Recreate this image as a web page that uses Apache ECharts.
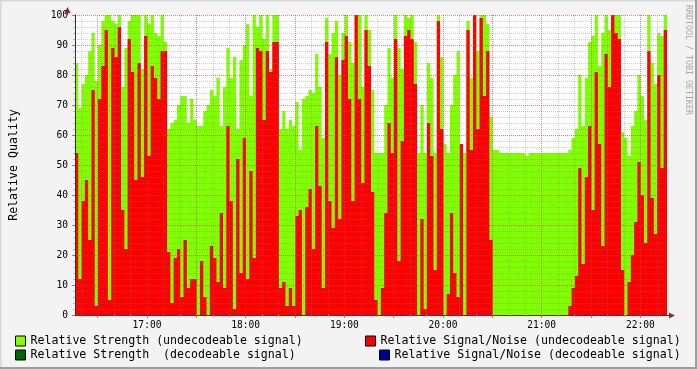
<!DOCTYPE html>
<html><head><meta charset="utf-8">
<script src="https://cdn.jsdelivr.net/npm/echarts@6/dist/echarts.min.js"></script>
<style>html,body{margin:0;padding:0;background:#f3f3f3}#c{width:697px;height:369px}</style>
</head><body><div id="c"></div>
<script>
// ---- data (2-minute bins starting 16:16.2) ----
const startMinute = 976.2;
const binMinutes = 2;
const hourLabels = ['17:00','18:00','19:00','20:00','21:00','22:00'];
const yTickLabels = [0,10,20,30,40,50,60,70,80,90,100];
const seriesNames = [
  'Relative Strength (undecodeable signal)',
  'Relative Signal/Noise (undecodeable signal)',
  'Relative Strength  (decodeable signal)',
  'Relative Signal/Noise (decodeable signal)'
];
const strengthUndecodeable = [
 84,69,77,80,88,94,78,90,98,100, 100,98,97,100,76,89,98,100,100,100,
 82,100,97,100,94,93,100,91,62,64, 65,70,73,73,64,72,65,63,63,68,
 70,75,73,79,63,76,89,79,86,62, 85,90,97,73,100,96,100,92,100,82,
 100,100,62,68,62,65,63,71,55,72, 73,75,74,87,76,59,99,87,94,98,
 80,94,100,91,84,100,100,76,100,95, 75,54,54,54,70,89,79,100,89,82,
 100,99,100,91,54,70,54,84,79,54, 100,86,57,54,70,80,88,54,54,98,
 79,100,88,100,100,97,66,55,55,54, 54,54,54,54,54,54,54,53,54,54,
 54,54,54,54,54,54,54,54,54,54, 55,59,62,80,63,79,91,93,100,83,
 94,100,95,100,100,100,61,59,53,63, 68,80,73,65,100,84,77,94,93,100
];
const snrUndecodeable = [
 54,12,38,45,25,75,3,72,83,95, 5,89,86,96,35,22,92,81,45,84,
 46,93,53,83,79,72,88,88,21,4, 19,22,6,25,9,12,12,0,18,6,
 0,23,19,11,34,9,63,38,2,52, 14,59,12,48,19,89,88,65,88,81,
 91,91,9,11,3,9,3,33,35,0, 36,42,22,63,43,9,91,38,29,86,
 32,85,93,72,38,100,72,44,95,83, 41,5,0,9,34,64,54,92,18,58,
 93,95,92,77,0,32,2,64,53,15, 98,62,0,7,34,14,6,57,0,95,
 55,100,62,99,73,88,25,0,0,0, 0,0,0,0,0,0,0,0,0,0,
 0,0,0,0,0,0,0,0,0,0, 3,9,13,49,17,46,63,35,81,57,
 23,87,76,100,94,92,15,0,11,20, 31,51,40,24,88,39,27,80,49,95
];
const strengthDecodeable = [];
const snrDecodeable = [];

// ---- derived tables for the library ----
const nBins = strengthUndecodeable.length;
const boundaries = Array.from({length: nBins + 1}, (_, i) => i);
const stepData = arr => arr.concat([arr[arr.length - 1]]);
const endMinute = startMinute + nBins * binMinutes;
const toMin = s => { const p = s.split(':'); return +p[0] * 60 + +p[1]; };
const hourValues = hourLabels.map(toMin);
const minorX = []; for (let t = Math.ceil(startMinute / 10) * 10; t <= endMinute; t += 10) minorX.push(t);
const majorX = []; for (let t = Math.ceil(startMinute / 30) * 30; t <= endMinute; t += 30) majorX.push(t);
const fmt = v => { const h = Math.floor(v / 60), m = Math.round(v % 60); return (h < 10 ? '0' : '') + h + ':' + (m < 10 ? '0' : '') + m; };

const MONO = 'DejaVu Sans Mono';
const GREY = 'rgba(128,128,128,0.38)';
const RED = 'rgba(222,48,48,0.45)';
const chart = echarts.init(document.getElementById('c'), null, {renderer: 'canvas'});

function legendAt(name, left, top) {
  return {
    data: [name], left: left, top: top, padding: 0, orient: 'horizontal',
    icon: 'rect', itemWidth: 10, itemHeight: 10, selectedMode: false,
    itemStyle: {borderColor: '#000', borderWidth: 1},
    textStyle: {fontFamily: MONO, fontSize: 11.6, color: '#000', lineHeight: 14}
  };
}

chart.setOption({
  animation: false,
  backgroundColor: '#f3f3f3',
  grid: {left: 67, right: 30, top: 15, bottom: 54, show: true, backgroundColor: '#fff', borderWidth: 0},
  legend: [
    legendAt(seriesNames[0], 15, 334),
    legendAt(seriesNames[1], 365, 334),
    legendAt(seriesNames[2], 15, 348),
    legendAt(seriesNames[3], 379, 348)
  ],
  xAxis: [
    {type: 'category', data: boundaries, boundaryGap: false, show: false, position: 'top'},
    {type: 'value', min: startMinute, max: endMinute, z: 3, position: 'bottom', offset: 0,
     axisLine: {show: true, onZero: false, lineStyle: {color: '#333', width: 1}},
     axisTick: {show: true, length: 2, customValues: minorX, lineStyle: {color: '#aaa'}},
     axisLabel: {show: true, customValues: hourValues, formatter: fmt, margin: 5,
                 fontFamily: MONO, fontSize: 9.6, color: '#000'},
     splitLine: {show: true, lineStyle: {color: GREY, type: [1, 1], width: 1}}},
    {type: 'value', min: startMinute, max: endMinute, z: 4, position: 'bottom', offset: 0,
     axisLine: {show: false, onZero: false},
     axisTick: {show: true, length: 3, customValues: majorX, lineStyle: {color: 'rgba(222,48,48,0.7)'}},
     axisLabel: {show: false},
     splitLine: {show: true, lineStyle: {color: RED, type: [1, 1], width: 1}}}
  ],
  yAxis: [
    {type: 'value', min: 0, max: 100, interval: 10, z: 4, position: 'left', offset: 0,
     name: 'Relative Quality', nameLocation: 'middle', nameGap: 55, nameRotate: 90,
     nameTextStyle: {fontFamily: MONO, fontSize: 11.6, color: '#000'},
     axisLine: {show: true, onZero: false, lineStyle: {color: '#333', width: 1}},
     axisTick: {show: true, length: 3, lineStyle: {color: 'rgba(222,48,48,0.7)'}},
     axisLabel: {show: true, margin: 7, fontFamily: MONO, fontSize: 9.6, color: '#000',
                 formatter: v => yTickLabels.indexOf(v) >= 0 ? String(v) : ''},
     splitLine: {show: true, lineStyle: {color: RED, type: [1, 1], width: 1}}},
    {type: 'value', min: 0, max: 100, interval: 2, z: 3, position: 'left', offset: 0,
     axisLine: {show: false, onZero: false}, axisLabel: {show: false},
     axisTick: {show: true, length: 2, lineStyle: {color: '#bbb'}},
     splitLine: {show: true, lineStyle: {color: GREY, type: [1, 1], width: 1}}}
  ],
  series: [
    {name: seriesNames[0], type: 'line', xAxisIndex: 0, yAxisIndex: 0, step: 'end',
     data: stepData(strengthUndecodeable), showSymbol: false, z: 1,
     color: '#7fff00', lineStyle: {opacity: 0}, areaStyle: {color: '#7fff00', opacity: 1}},
    {name: seriesNames[1], type: 'line', xAxisIndex: 0, yAxisIndex: 0, step: 'end',
     data: stepData(snrUndecodeable), showSymbol: false, z: 2,
     color: '#ff0000', lineStyle: {opacity: 0}, areaStyle: {color: '#ff0000', opacity: 1}},
    {name: seriesNames[2], type: 'line', xAxisIndex: 0, yAxisIndex: 0, step: 'end',
     data: strengthDecodeable, showSymbol: false, color: '#006400',
     lineStyle: {opacity: 0}, areaStyle: {color: '#006400', opacity: 1}},
    {name: seriesNames[3], type: 'line', xAxisIndex: 0, yAxisIndex: 0, step: 'end',
     data: snrDecodeable, showSymbol: false, color: '#000099',
     lineStyle: {opacity: 0}, areaStyle: {color: '#000099', opacity: 1}}
  ],
  graphic: [
    {type: 'line', shape: {x1: 0.5, y1: 0, x2: 0.5, y2: 369}, style: {stroke: '#d8d8d8', lineWidth: 2}, silent: true},
    {type: 'line', shape: {x1: 0, y1: 0.5, x2: 697, y2: 0.5}, style: {stroke: '#d8d8d8', lineWidth: 2}, silent: true},
    {type: 'line', shape: {x1: 0, y1: 368, x2: 697, y2: 368}, style: {stroke: '#9e9e9e', lineWidth: 2}, silent: true},
    {type: 'line', shape: {x1: 696, y1: 0, x2: 696, y2: 369}, style: {stroke: '#9e9e9e', lineWidth: 2}, silent: true},
    {type: 'line', shape: {x1: 67.5, y1: 10, x2: 67.5, y2: 15}, style: {stroke: '#333', lineWidth: 1}, silent: true, z: 10},
    {type: 'line', shape: {x1: 667, y1: 315.5, x2: 670, y2: 315.5}, style: {stroke: '#333', lineWidth: 1}, silent: true, z: 10},
    {type: 'polygon', shape: {points: [[64.5, 13], [70.5, 13], [67.5, 7]]}, style: {fill: '#8c2a2a'}, silent: true, z: 10},
    {type: 'polygon', shape: {points: [[669, 312.5], [669, 318.5], [675, 315.5]]}, style: {fill: '#8c2a2a'}, silent: true, z: 10},
    {type: 'text', x: 688, y: 60, rotation: -Math.PI / 2, silent: true,
     style: {text: 'RRDTOOL / TOBI OETIKER', fontFamily: MONO, fontSize: 8.3, fill: '#a8a8a8',
             align: 'center', verticalAlign: 'middle'}}
  ]
});
</script></body></html>
